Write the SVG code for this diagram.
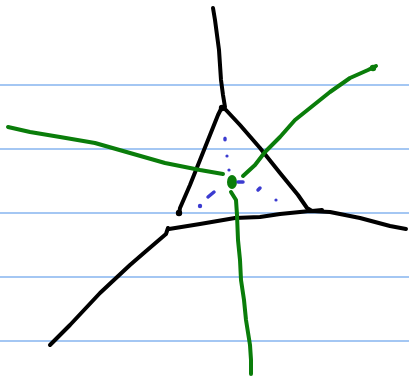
<svg xmlns="http://www.w3.org/2000/svg" width="409" height="383" viewBox="0 0 409 383">
<style>
.rule{stroke:#4a90e8;stroke-width:1.2;fill:none}
.blk{stroke:#000;stroke-width:4;fill:none;stroke-linecap:round;stroke-linejoin:round}
.grn{stroke:#0a7d0a;stroke-width:4;fill:none;stroke-linecap:round;stroke-linejoin:round}
.dot{fill:#3b3bd0}
.dash{stroke:#3b3bd0;stroke-width:3.5;stroke-linecap:round;fill:none}
</style>
<rect width="409" height="383" fill="#fff"/>
<g id="paper-lines">
<line class="rule" x1="0" y1="85" x2="409" y2="85"/>
<line class="rule" x1="0" y1="149" x2="409" y2="149"/>
<line class="rule" x1="0" y1="213" x2="409" y2="213"/>
<line class="rule" x1="0" y1="277" x2="409" y2="277"/>
<line class="rule" x1="0" y1="341" x2="409" y2="341"/>
</g>
<g id="black-lines">
<path class="blk" d="M213,8 L215,20 L217,35 L219,50 L220,65 L221,80 L223,95 L225,107"/>
<path class="blk" d="M179,214 L180,208 L190,185 L200,160 L210,135 L218,115 L222,107 L226,110 L240,125 L260,148 L280,173 L298,195 L307,208 L312,211 L322,210"/>
<path class="blk" d="M169,229 L200,224 L235,218 L260,217 L280,214 L310,211 L330,212 L360,218 L390,226 L406,229"/>
<path class="blk" d="M168,228 L166,234 L145,252 L130,265 L100,293 L70,325 L50,345"/>
<circle cx="179" cy="213" r="3.2" fill="#000"/>
<circle cx="222" cy="108" r="3.2" fill="#000"/>
</g>
<g id="green-lines">
<path class="grn" d="M8,127 L30,132 L60,137 L95,143 L130,153 L165,163 L200,170 L223,174"/>
<path class="grn" d="M243,176 L255,165 L265,152 L280,137 L295,120 L310,108 L330,92 L350,78 L368,70 L376,66"/>
<path class="grn" d="M231,192 L236,200 L237,215 L238,240 L240,260 L241,280 L244,300 L246,320 L250,345 L251,360 L251,374"/>
<ellipse cx="232" cy="182" rx="5" ry="7" fill="#0a7d0a"/>
<circle cx="373" cy="68" r="3.2" fill="#0a7d0a"/>
</g>
<g id="blue-dots">
<ellipse class="dot" cx="225" cy="139" rx="1.8" ry="2.5"/>
<circle class="dot" cx="227" cy="156" r="1.6"/>
<circle class="dot" cx="229" cy="170" r="1.6"/>
<path class="dash" d="M238,182 L243,182"/>
<path class="dash" d="M258,190 L260,188"/>
<circle class="dot" cx="276" cy="200" r="1.6"/>
<path class="dash" d="M208,197 L214,192"/>
<circle class="dot" cx="200" cy="206" r="2.2"/>
</g>
</svg>
